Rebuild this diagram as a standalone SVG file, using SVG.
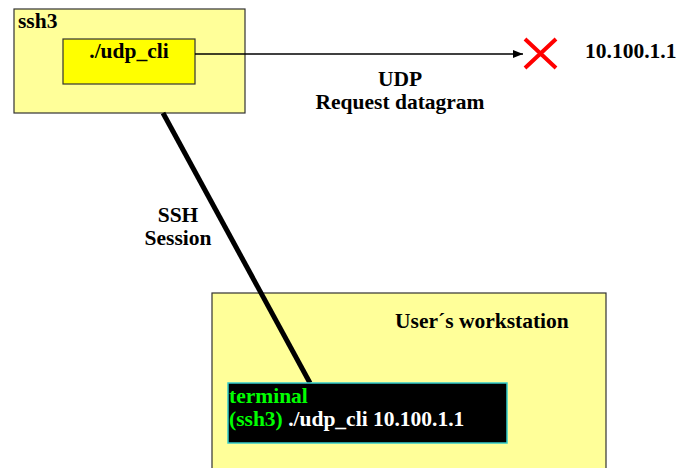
<svg xmlns="http://www.w3.org/2000/svg" width="681" height="468" viewBox="0 0 681 468">
  <style>
    text { font-family: "Liberation Serif", "Times New Roman", Times, "DejaVu Serif", serif; font-weight: bold; font-size: 21.5px; fill: #000; }
    .box { fill: #ffff99; stroke: #333; stroke-width: 1.2; }
    .mid { text-anchor: middle; }
    .green { fill: #00ff00; }
    .white { fill: #ffffff; }
  </style>
  <defs>
    <marker id="arrow" markerWidth="10" markerHeight="8" refX="10" refY="4" orient="auto" markerUnits="userSpaceOnUse">
      <path d="M0,0 L10,4 L0,8 Z" fill="#000"/>
    </marker>
  </defs>

  <g id="ssh3">
    <rect class="box" x="14" y="9" width="231" height="104"/>
    <text x="18" y="28">ssh3</text>
  </g>

  <g id="udp_cli">
    <rect x="63" y="39" width="132" height="45" fill="#ffff00" stroke="#333" stroke-width="1.2"/>
    <text class="mid" x="129" y="58">./udp_cli</text>
  </g>

  <g id="workstation">
    <rect class="box" x="212" y="293" width="394" height="180"/>
    <text x="395" y="328">User´s workstation</text>
  </g>

  <g id="target">
    <path d="M525,39 L556,68 M556,39 L525,68" stroke="#ff0000" stroke-width="4"/>
    <text x="585" y="58">10.100.1.1</text>
  </g>

  <g id="connectors">
    <line x1="195" y1="54" x2="523" y2="54" stroke="#000" stroke-width="1.3" marker-end="url(#arrow)"/>
    <line x1="163" y1="113" x2="310" y2="383" stroke="#000" stroke-width="5"/>
    <text class="mid" x="400" y="86">UDP</text>
    <text class="mid" x="400" y="109">Request datagram</text>
    <text class="mid" x="178" y="222">SSH</text>
    <text class="mid" x="178" y="245">Session</text>
  </g>

  <g id="terminal">
    <rect x="228" y="383" width="279" height="60" fill="#000" stroke="#33cccc" stroke-width="1.5"/>
    <text x="229" y="403" class="green">terminal</text>
    <text x="229" y="426"><tspan class="green">(ssh3)</tspan><tspan class="white"> ./udp_cli 10.100.1.1</tspan></text>
  </g>
</svg>
